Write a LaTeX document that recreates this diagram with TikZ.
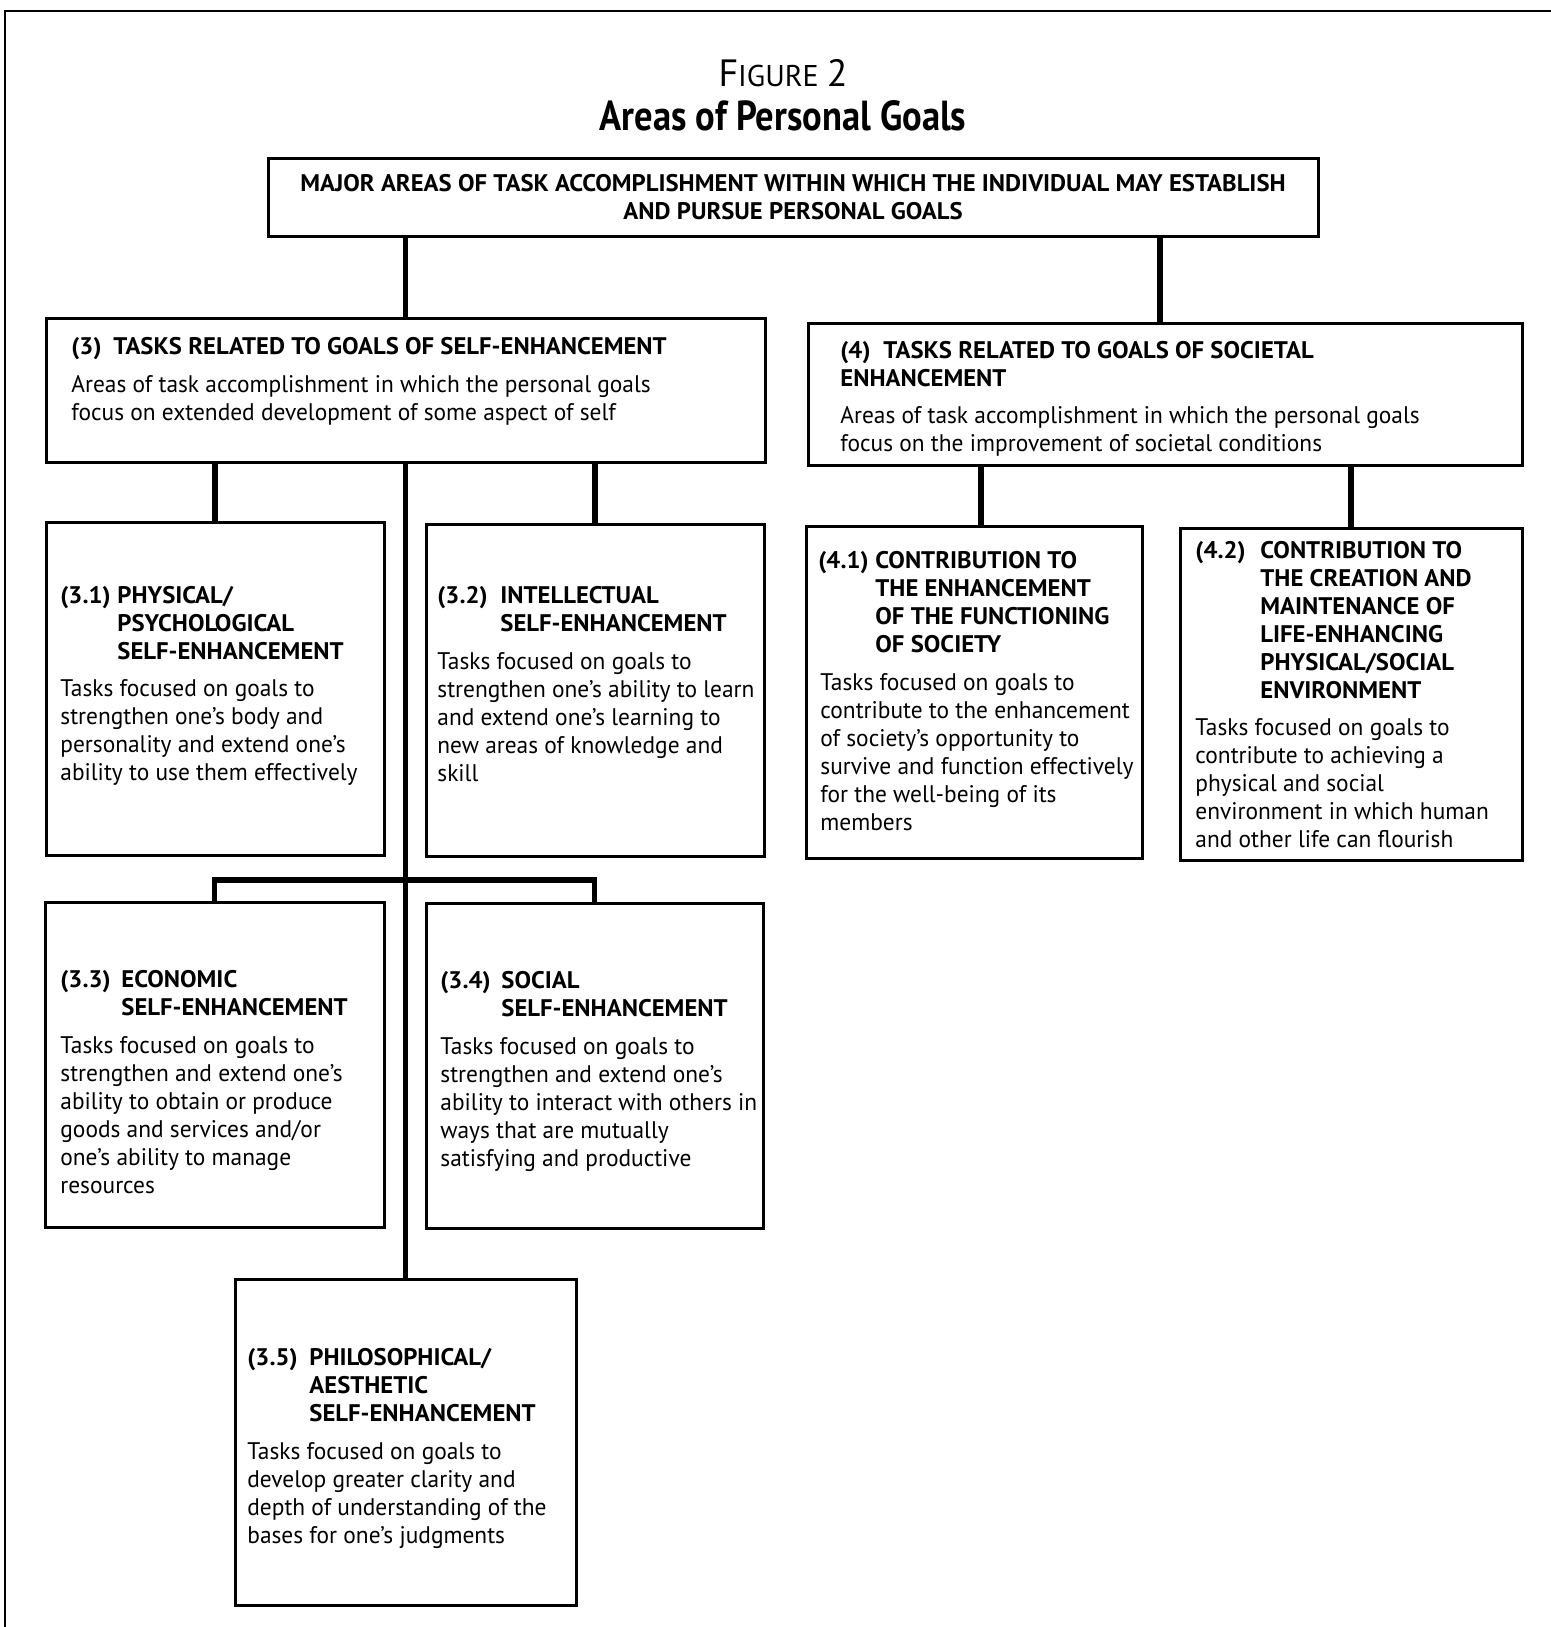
\documentclass[tikz,border=0pt]{standalone}
\usepackage{fontspec}
\setmainfont{PT Sans}[FakeStretch=0.975, BoldFeatures={FakeStretch=1.03}]
\newfontfamily\titlefont{PT Sans}[FakeStretch=1.0, BoldFeatures={FakeStretch=0.87}]
\usetikzlibrary{fit}
\newcommand\lines[1]{\begin{tabular}[t]{@{}l@{}}#1\end{tabular}}
\begin{document}
\begin{tikzpicture}[x=0.5pt,y=-0.5pt,
  box/.style={draw, line width=1.5pt, inner sep=0pt, rectangle},
  link/.style={line width=2.6pt},
  txt/.style={anchor=base west, inner sep=0pt, font=\fontsize{12}{14}\selectfont},
  hd/.style={anchor=base west, inner sep=0pt, font=\fontsize{12}{14}\selectfont\bfseries},
  frame/.style={line width=1pt}
]
\useasboundingbox (0,0) rectangle (1551,1627);

% outer frame (top and left rules)
\coordinate (fl) at (5,11);
\coordinate (fr) at (1551,11);
\coordinate (fb) at (5,1627);
\draw[frame] (fr) -- (fl) -- (fb);

% title
\node[anchor=base, inner sep=0pt, font=\titlefont] (fig) at (783,87)
  {\fontsize{19}{21}\selectfont F\fontsize{15}{17}\selectfont IGURE \fontsize{19}{21}\selectfont 2};
\node[anchor=base, inner sep=0pt, font=\titlefont\bfseries\fontsize{21}{24}\selectfont] (ttl) at (783,131)
  {Areas of Personal Goals};

% boxes
\node[box, fit={(268,158) (1318,236)}] (top) {};
\node[box, fit={(46,318) (765,462)}] (b3) {};
\node[box, fit={(808,323) (1522,465)}] (b4) {};
\node[box, fit={(46,522) (384,855)}] (b31) {};
\node[box, fit={(426,524) (764,856)}] (b32) {};
\node[box, fit={(45,902) (384,1227)}] (b33) {};
\node[box, fit={(426,903) (763,1228)}] (b34) {};
\node[box, fit={(235,1279) (576,1605)}] (b35) {};
\node[box, fit={(806,526) (1142,858)}] (b41) {};
\node[box, fit={(1180,528) (1522,860)}] (b42) {};

% connectors
\draw[link] (top.south -| b3.north) -- (b3.north);
\draw[link] ([xshift=-2.5pt]b4.north |- top.south) -- ([xshift=-2.5pt]b4.north);
\draw[link] (b31.north) -- (b31.north |- b3.south);
\draw[link] (b32.north) -- (b32.north |- b3.south);
\draw[link] (b3.south) -- (b35.north);
\coordinate (bar) at (405,880);
\draw[link] (b33.north) -- (b33.north |- bar) -- (b34.north |- bar) -- (b34.north);
\draw[link] ([xshift=3.5pt]b41.north) -- ([xshift=3.5pt]b41.north |- b4.south);
\draw[link] (b42.north) -- (b42.north |- b4.south);

% top box text
\node[anchor=center, align=center, inner sep=0pt, font=\fontsize{12}{14}\selectfont\bfseries] (toptxt) at (top.center)
  {MAJOR AREAS OF TASK ACCOMPLISHMENT WITHIN WHICH THE INDIVIDUAL MAY ESTABLISH\\AND PURSUE PERSONAL GOALS};

% (3)
\node[hd] (n3) at (71,354) {(3)};
\node[hd] (h3) at (113,354) {TASKS RELATED TO GOALS OF SELF-ENHANCEMENT};
\node[txt] (t3) at (71,392) {\lines{Areas of task accomplishment in which the personal goals\\focus on extended development of some aspect of self}};

% (4)
\node[hd] (n4) at (840,358) {(4)};
\node[hd] (h4) at (883,358) {TASKS RELATED TO GOALS OF SOCIETAL};
\node[hd] (h4b) at (840,386) {ENHANCEMENT};
\node[txt] (t4) at (840,423) {\lines{Areas of task accomplishment in which the personal goals\\focus on the improvement of societal conditions}};

% (3.1)
\node[hd] (n31) at (60,603) {(3.1)};
\node[hd] (h31) at (117,603) {\lines{PHYSICAL/\\PSYCHOLOGICAL\\SELF-ENHANCEMENT}};
\node[txt] (t31) at (60,696) {\lines{Tasks focused on goals to\\strengthen one’s body and\\personality and extend one’s\\ability to use them effectively}};

% (3.2)
\node[hd] (n32) at (437,603) {(3.2)};
\node[hd] (h32) at (500,603) {\lines{INTELLECTUAL\\SELF-ENHANCEMENT}};
\node[txt] (t32) at (437,669) {\lines{Tasks focused on goals to\\strengthen one’s ability to learn\\and extend one’s learning to\\new areas of knowledge and\\skill}};

% (3.3)
\node[hd] (n33) at (60,987) {(3.3)};
\node[hd] (h33) at (121,987) {\lines{ECONOMIC\\SELF-ENHANCEMENT}};
\node[txt] (t33) at (60,1053) {\lines{Tasks focused on goals to\\strengthen and extend one’s\\ability to obtain or produce\\goods and services and/or\\one’s ability to manage\\resources}};

% (3.4)
\node[hd] (n34) at (440,988) {(3.4)};
\node[hd] (h34) at (501,988) {\lines{SOCIAL\\SELF-ENHANCEMENT}};
\node[txt] (t34) at (440,1054) {\lines{Tasks focused on goals to\\strengthen and extend one’s\\ability to interact with others in\\ways that are mutually\\satisfying and productive}};

% (3.5)
\node[hd] (n35) at (247,1365) {(3.5)};
\node[hd] (h35) at (309,1365) {\lines{PHILOSOPHICAL/\\AESTHETIC\\SELF-ENHANCEMENT}};
\node[txt] (t35) at (247,1459) {\lines{Tasks focused on goals to\\develop greater clarity and\\depth of understanding of the\\bases for one’s judgments}};

% (4.1)
\node[hd] (n41) at (818,568) {(4.1)};
\node[hd] (h41) at (875,568) {\lines{CONTRIBUTION TO\\THE ENHANCEMENT\\OF THE FUNCTIONING\\OF SOCIETY}};
\node[txt] (t41) at (820,690) {\lines{Tasks focused on goals to\\contribute to the enhancement\\of society’s opportunity to\\survive and function effectively\\for the well-being of its\\members}};

% (4.2)
\node[hd] (n42) at (1195,558) {(4.2)};
\node[hd] (h42) at (1260,558) {\lines{CONTRIBUTION TO\\THE CREATION AND\\MAINTENANCE OF\\LIFE-ENHANCING\\PHYSICAL/SOCIAL\\ENVIRONMENT}};
\node[txt] (t42) at (1195,735) {\lines{Tasks focused on goals to\\contribute to achieving a\\physical and social\\environment in which human\\and other life can flourish}};
\end{tikzpicture}
\end{document}
